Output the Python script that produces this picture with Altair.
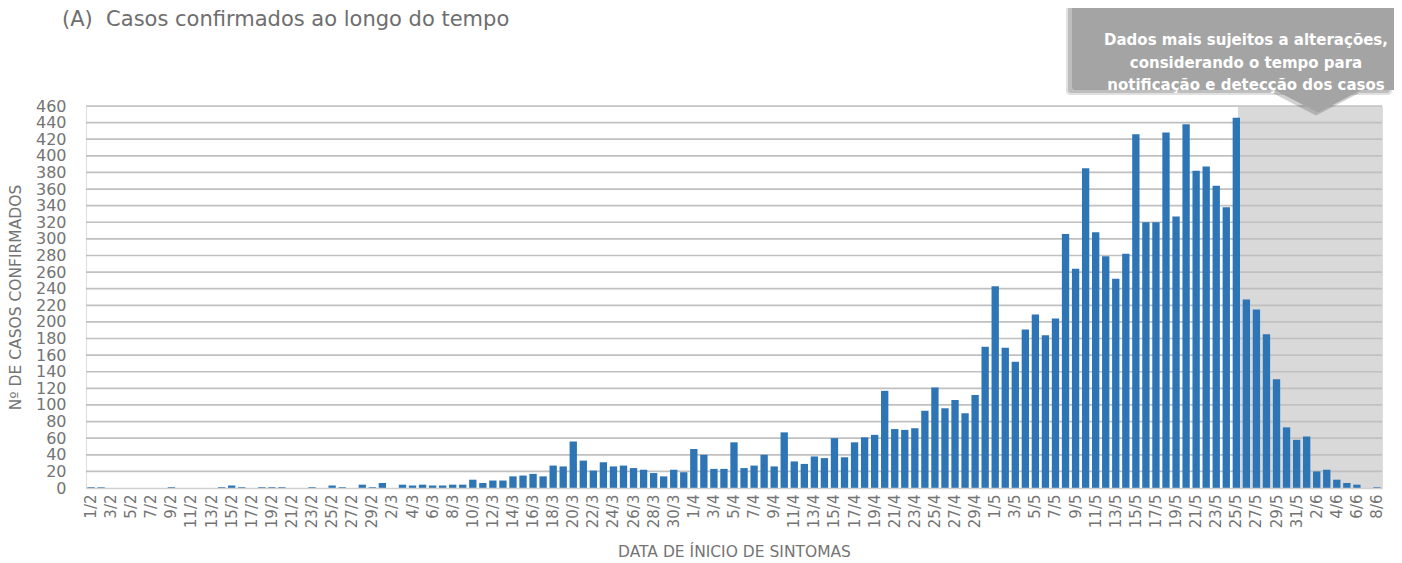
import altair as alt
import pandas as pd

# ---- data ----
feb = [1, 1, 0, 0, 0, 0, 0, 0, 1, 0, 0, 0, 0, 1, 3, 1, 0, 1, 1, 1, 0, 0, 1, 0, 3, 1, 0, 4, 1]
mar = [6, 0, 4, 3, 4, 3, 3, 4, 4, 10, 6, 9, 9, 14, 15, 17, 14, 27, 26, 56, 33, 21, 31, 26, 27, 24, 22, 18, 14, 22, 19]
apr = [47, 40, 23, 23, 55, 24, 27, 40, 26, 67, 32, 29, 38, 36, 60, 37, 55, 61, 64, 117, 71, 70, 72, 93, 121, 96, 106, 90, 112, 170]
may = [243, 169, 152, 191, 209, 184, 204, 306, 264, 385, 308, 279, 252, 282, 426, 320, 320, 428, 327, 438, 382, 387, 364, 338, 446, 227, 215, 185, 131, 73, 58]
jun = [62, 20, 22, 10, 6, 4, 0, 1]

months = [("2", feb), ("3", mar), ("4", apr), ("5", may), ("6", jun)]
labels = [f"{d}/{m}" for m, vals in months for d in range(1, len(vals) + 1)]
values = feb + mar + apr + may + jun
tick_labels = labels[::2]
y_ticks = list(range(0, 461, 20))
shade_start = "25/5"

title_text = "(A)\u00a0 Casos confirmados ao longo do tempo"
callout_lines = ["Dados mais sujeitos a alterações,", "considerando o tempo para", "notificação e detecção dos casos"]
y_title = "Nº DE CASOS CONFIRMADOS"
x_title = "DATA DE ÍNICIO DE SINTOMAS"

# ---- layout / style ----
PLOT_W, PLOT_H = 1296, 382
FONT = "DejaVu Sans"
GRAY = "#747474"
BAR = "#2e75b6"

df = pd.DataFrame({"data": labels, "casos": values})
grid_df = pd.DataFrame({"v": y_ticks[1:]})
shade_df = pd.DataFrame({"inicio": [shade_start], "topo": [y_ticks[-1]], "base": [0]})

xscale = alt.Scale(domain=labels, paddingInner=0.27, paddingOuter=0.135)
yscale = alt.Scale(domain=[0, y_ticks[-1]], nice=False)

x_axis = alt.Axis(
    values=tick_labels,
    labelAngle=-90,
    labelFont=FONT,
    labelFontSize=15,
    labelColor=GRAY,
    labelPadding=6,
    labelOverlap=False,
    ticks=False,
    domainColor="#d0d0d0",
    domainWidth=1.6,
    title=x_title,
    titleFont=FONT,
    titleFontSize=15.5,
    titleFontWeight="normal",
    titleColor=GRAY,
    titleX=PLOT_W / 2,
    titleY=63,
    titleBaseline="middle",
)
y_axis = alt.Axis(
    values=y_ticks,
    grid=False,
    domain=False,
    ticks=False,
    labelPadding=20,
    labelFont=FONT,
    labelFontSize=16,
    labelColor=GRAY,
    title=y_title,
    titleFont=FONT,
    titleFontSize=15.5,
    titleFontWeight="normal",
    titleColor=GRAY,
    titleX=-71,
    titleY=PLOT_H / 2,
    titleAngle=-90,
    titleBaseline="middle",
    titleAlign="center",
)

shade = alt.Chart(shade_df).mark_rect(color="#d9d9d9").encode(
    x=alt.X("inicio:N", scale=xscale, bandPosition=0.72, axis=x_axis, title=x_title),
    x2=alt.value(PLOT_W),
    y=alt.Y("topo:Q", scale=yscale, axis=y_axis, title=y_title),
    y2="base:Q",
)

grid = alt.Chart(grid_df).mark_rule(color="#c0c0c0", strokeWidth=1.7).encode(
    y=alt.Y("v:Q", scale=yscale, axis=y_axis, title=y_title)
)

bars = alt.Chart(df).mark_bar(color=BAR).encode(
    x=alt.X("data:N", scale=xscale, sort=None, axis=x_axis, title=x_title),
    y=alt.Y("casos:Q", scale=yscale, axis=y_axis, title=y_title),
)

one = pd.DataFrame({"k": [0]})

title = alt.Chart(one).mark_text(
    text=title_text, font=FONT, fontSize=21, color="#6e6e6e", align="left", baseline="middle"
).encode(x=alt.value(-24), y=alt.value(-86))

# callout box with shadow and pointer
tri_path = "M -1 -0.3 L 1 -0.3 L 0 0.22 Z"
shadow1 = alt.Chart(one).mark_rect(color="#000000", opacity=0.12, cornerRadius=4).encode(
    x=alt.value(980), x2=alt.value(1306), y=alt.value(-100), y2=alt.value(-11)
)
shadow2 = alt.Chart(one).mark_rect(color="#000000", opacity=0.15, cornerRadius=3).encode(
    x=alt.value(982), x2=alt.value(1304), y=alt.value(-100), y2=alt.value(-13)
)
tri_shadow = alt.Chart(one).mark_point(
    shape=tri_path, filled=True, color="#000000", opacity=0.18, size=7569, strokeWidth=0
).encode(x=alt.value(1230), y=alt.value(0))
box = alt.Chart(one).mark_rect(color="#a4a4a4", cornerRadius=3).encode(
    x=alt.value(986), x2=alt.value(1312), y=alt.value(-100), y2=alt.value(-16)
)
tri = alt.Chart(one).mark_point(
    shape=tri_path, filled=True, color="#a4a4a4", opacity=1, size=7569, strokeWidth=0
).encode(x=alt.value(1232), y=alt.value(-3))
callout = alt.Chart(one).mark_text(
    text=callout_lines, font=FONT, fontSize=15, fontWeight="bold", color="#ffffff",
    align="center", baseline="middle", lineHeight=22.5
).encode(x=alt.value(1160), y=alt.value(-66))

chart = alt.layer(
    shade, grid, bars, title, shadow1, shadow2, tri_shadow, box, tri, callout
).properties(
    width=PLOT_W,
    height=PLOT_H,
    padding={"left": 78, "top": 98, "right": 12, "bottom": 77},
    autosize=alt.AutoSizeParams(type="none"),
).configure_view(stroke=None).configure(background="#ffffff")

chart.save("out.html", embed_options={"renderer": "svg", "actions": False})
